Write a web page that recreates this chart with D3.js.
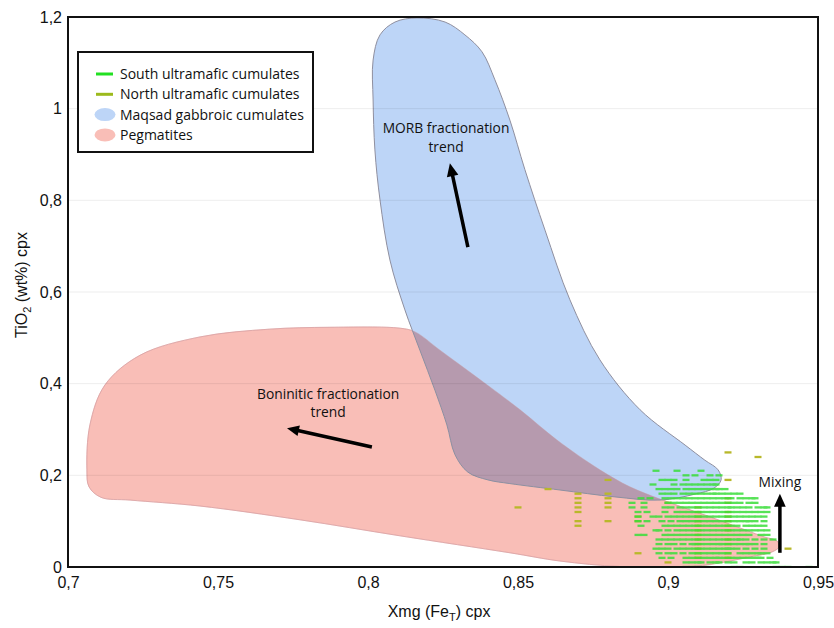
<!DOCTYPE html>
<html><head><meta charset="utf-8">
<script src="https://cdn.jsdelivr.net/npm/d3@7"></script>
<style>body{margin:0;background:#fff} svg{display:block}</style>
</head><body><svg id="c" width="834" height="628"></svg>
<script>
// ---------- data ----------
const xTicks = [0.7, 0.75, 0.8, 0.85, 0.9, 0.95];
const yTicks = [0, 0.2, 0.4, 0.6, 0.8, 1, 1.2];
const gridValues = [0.2, 0.4, 0.6, 0.8, 1.0];
const legendLabels = ["South ultramafic cumulates", "North ultramafic cumulates", "Maqsad gabbroic cumulates", "Pegmatites"];

// field outlines [Xmg, TiO2]
const morbField = [
  [0.8163,1.198],[0.8257,1.189],[0.8323,1.161],[0.838,1.124],[0.8423,1.063],[0.8473,0.975],
  [0.8523,0.867],[0.859,0.735],[0.8673,0.583],[0.8773,0.452],[0.8907,0.343],[0.9057,0.266],
  [0.9123,0.233],[0.9167,0.212],[0.9177,0.190],[0.9153,0.172],[0.909,0.159],[0.8973,0.146],
  [0.8823,0.153],[0.864,0.168],[0.8473,0.182],[0.840,0.190],[0.8333,0.207],[0.829,0.245],
  [0.8263,0.310],[0.8223,0.386],[0.8173,0.473],[0.8123,0.561],[0.8073,0.670],[0.804,0.801],
  [0.8023,0.910],[0.8017,1.019],[0.8017,1.106],[0.804,1.161],[0.809,1.189]
];
const pegmatiteField = [
  [0.707,0.175],[0.7063,0.212],[0.7073,0.310],[0.7123,0.397],[0.724,0.462],[0.744,0.502],
  [0.7673,0.519],[0.7873,0.523],[0.8107,0.521],[0.8157,0.513],[0.824,0.473],
  [0.834,0.425],[0.8507,0.343],[0.863,0.277],[0.8773,0.212],[0.8873,0.175],[0.8983,0.146],
  [0.915,0.107],[0.9257,0.081],[0.9323,0.065],[0.9363,0.057],[0.937,0.044],[0.9347,0.033],
  [0.9273,0.022],[0.9173,0.009],[0.9073,0.001],[0.884,0.001],[0.864,0.013],[0.8473,0.031],
  [0.8107,0.068],[0.7773,0.103],[0.744,0.133],[0.7207,0.146],[0.711,0.152]
];

// South ultramafic cumulates: rows of TiO2 with Xmg values
const southTiO2 = [0.21,0.20,0.19,0.18,0.17,0.16,0.15,0.14,0.13,0.12,0.11,0.10,0.09,0.08,0.07,0.06,0.05,0.04,0.03,0.02,0.01,0.00];
const southXmg = [
  [0.896,0.903,0.911],
  [0.906,0.909,0.914,0.917],
  [0.898,0.900,0.902,0.906,0.912,0.914,0.916],
  [0.895,0.902,0.905,0.907,0.909,0.911,0.913,0.915,0.916],
  [0.897,0.899,0.901,0.903,0.906,0.908,0.910,0.912,0.914,0.916,0.917,0.919],
  [0.898,0.900,0.902,0.905,0.907,0.909,0.911,0.913,0.915,0.916,0.918,0.920,0.922,0.924],
  [0.891,0.894,0.899,0.901,0.903,0.905,0.907,0.909,0.911,0.913,0.915,0.917,0.919,0.921,0.924,0.926,0.928,0.929],
  [0.888,0.892,0.900,0.902,0.904,0.906,0.908,0.910,0.912,0.914,0.916,0.918,0.920,0.922,0.924,0.927,0.929],
  [0.888,0.892,0.899,0.901,0.904,0.906,0.908,0.910,0.912,0.914,0.916,0.918,0.920,0.921,0.923,0.925,0.927,0.930,0.932,0.933],
  [0.890,0.893,0.899,0.903,0.905,0.907,0.909,0.911,0.913,0.915,0.917,0.919,0.921,0.923,0.925,0.927,0.929,0.931,0.933],
  [0.890,0.895,0.897,0.900,0.902,0.904,0.906,0.908,0.910,0.912,0.914,0.916,0.918,0.920,0.922,0.924,0.926,0.928,0.930,0.932],
  [0.890,0.893,0.898,0.901,0.904,0.906,0.908,0.910,0.912,0.914,0.916,0.918,0.920,0.922,0.924,0.926,0.927,0.929,0.932],
  [0.891,0.899,0.901,0.903,0.905,0.907,0.909,0.911,0.913,0.915,0.917,0.919,0.921,0.923,0.926,0.928,0.930,0.932],
  [0.896,0.897,0.900,0.903,0.905,0.907,0.909,0.911,0.913,0.915,0.917,0.919,0.921,0.923,0.925,0.927,0.929,0.931,0.933],
  [0.890,0.892,0.899,0.901,0.903,0.905,0.907,0.909,0.911,0.913,0.915,0.917,0.919,0.921,0.923,0.925,0.927,0.931,0.933],
  [0.897,0.899,0.901,0.903,0.905,0.907,0.909,0.911,0.913,0.915,0.917,0.919,0.921,0.923,0.924,0.926,0.929,0.932,0.935],
  [0.897,0.900,0.902,0.905,0.908,0.909,0.911,0.913,0.915,0.917,0.918,0.920,0.922,0.924,0.926,0.927,0.929,0.932],
  [0.896,0.898,0.900,0.903,0.905,0.907,0.909,0.911,0.913,0.915,0.917,0.919,0.920,0.921,0.923,0.926,0.929,0.932],
  [0.897,0.900,0.902,0.905,0.908,0.910,0.912,0.914,0.916,0.918,0.920,0.924,0.926,0.928,0.930,0.931,0.933],
  [0.898,0.901,0.906,0.908,0.910,0.912,0.914,0.916,0.917,0.919,0.921,0.923,0.925,0.927,0.929,0.930,0.931,0.934],
  [0.906,0.908,0.910,0.911,0.914,0.916,0.917,0.920,0.922,0.926,0.928,0.931,0.933,0.935,0.936],
  [0.906,0.908,0.910,0.913,0.922,0.924,0.936,0.938,0.940,0.947]
];

// North ultramafic cumulates [Xmg, TiO2]
const northPoints = [
  [0.85,0.13],[0.86,0.17],
  [0.87,0.16],[0.87,0.15],[0.87,0.14],[0.87,0.13],[0.87,0.12],[0.87,0.10],[0.87,0.09],
  [0.88,0.19],[0.88,0.16],[0.88,0.15],[0.88,0.14],[0.88,0.13],[0.88,0.10],
  [0.89,0.11],[0.89,0.10],[0.89,0.03],[0.90,0.14],[0.90,0.01],
  [0.91,0.13],[0.91,0.12],[0.91,0.11],[0.91,0.10],[0.91,0.09],[0.91,0.08],[0.91,0.07],[0.91,0.06],[0.91,0.05],[0.91,0.04],[0.91,0.03],[0.91,0.02],
  [0.92,0.25],[0.92,0.19],[0.92,0.15],[0.92,0.14],[0.92,0.12],[0.92,0.11],[0.92,0.10],[0.92,0.09],[0.92,0.08],[0.92,0.06],[0.92,0.05],[0.92,0.03],[0.92,0.02],
  [0.93,0.24],[0.94,0.04]
];

// ---------- chart ----------
const W = 834, H = 628;
const margin = {left: 68, right: 16, top: 17, bottom: 61};
const x = d3.scaleLinear().domain([0.7, 0.95]).range([margin.left, W - margin.right]);
const y = d3.scaleLinear().domain([0, 1.2]).range([H - margin.bottom, margin.top]);
const fmt = d => String(d).replace('.', ',');

const svg = d3.select('#c');
const defs = svg.append('defs');
defs.append('clipPath').attr('id', 'plotClip').append('rect')
  .attr('x', x(0.7)).attr('y', y(1.2)).attr('width', x(0.95) - x(0.7)).attr('height', y(0) - y(1.2));

const area = d3.line().x(d => x(d[0])).y(d => y(d[1])).curve(d3.curveCatmullRomClosed.alpha(0.5));
defs.append('clipPath').attr('id', 'morbClip').append('path').attr('d', area(morbField));

const plot = svg.append('g').attr('clip-path', 'url(#plotClip)');

plot.append('path').attr('d', area(pegmatiteField)).attr('fill', '#f9beb7').attr('stroke', '#eeaaa6').attr('stroke-width', 0.8);
plot.append('path').attr('d', area(morbField)).attr('fill', '#bdd5f7');
plot.append('g').attr('clip-path', 'url(#morbClip)').append('path')
  .attr('d', area(pegmatiteField)).attr('fill', '#b69aae');
plot.append('path').attr('d', area(pegmatiteField)).attr('fill', 'none').attr('stroke', '#c69aa0').attr('stroke-width', 0.7).attr('stroke-opacity', 0.6);
plot.append('path').attr('d', area(morbField)).attr('fill', 'none').attr('stroke', '#8f8f9f').attr('stroke-width', 1);

// grid
plot.selectAll('line.grid').data(gridValues).join('line').attr('class', 'grid')
  .attr('x1', x(0.7)).attr('x2', x(0.95)).attr('y1', d => y(d)).attr('y2', d => y(d))
  .attr('stroke', '#000').attr('stroke-opacity', 0.07).attr('stroke-width', 1);

// points
const dashW = 7, dashH = 2.3;
plot.append('g').selectAll('rect').data(northPoints).join('rect')
  .attr('x', d => x(d[0]) - dashW / 2).attr('y', d => y(d[1]) - dashH / 2)
  .attr('width', dashW).attr('height', dashH).attr('fill', '#b8b82a');
const southFlat = southTiO2.flatMap((t, i) => southXmg[i].map(v => [v, t]));
plot.append('g').attr('opacity', 0.85).selectAll('rect').data(southFlat).join('rect')
  .attr('x', d => x(d[0]) - dashW / 2).attr('y', d => y(d[1]) - dashH / 2)
  .attr('width', dashW).attr('height', dashH).attr('fill', '#3ade3a');

// annotations
const annFont = "'Open Sans', 'Noto Sans', sans-serif";
function arrow(from, to, head) {
  const x1 = x(from[0]), y1 = y(from[1]), x2 = x(to[0]), y2 = y(to[1]);
  const ang = Math.atan2(y2 - y1, x2 - x1);
  const L = head, hw = head * 0.45;
  const bx = x2 - L * Math.cos(ang), by = y2 - L * Math.sin(ang);
  svg.append('line').attr('x1', x1).attr('y1', y1).attr('x2', bx + Math.cos(ang)).attr('y2', by + Math.sin(ang))
    .attr('stroke', '#000').attr('stroke-width', 3.5);
  const p = [[x2, y2], [bx + hw * Math.sin(ang), by - hw * Math.cos(ang)], [bx - hw * Math.sin(ang), by + hw * Math.cos(ang)]];
  svg.append('path').attr('d', 'M' + p.map(q => q.join(',')).join('L') + 'Z').attr('fill', '#000');
}
function label(lines, pos, lh) {
  const t = svg.append('text').attr('x', x(pos[0])).attr('y', y(pos[1]))
    .attr('text-anchor', 'middle').attr('font-family', annFont).attr('font-size', 13.8).attr('fill', '#111');
  lines.forEach((s, i) => t.append('tspan').attr('x', x(pos[0])).attr('dy', i === 0 ? 0 : lh).text(s));
}
label(["MORB fractionation", "trend"], [0.826, 0.948], 19);
arrow([0.8333, 0.698], [0.8273, 0.881], 13);
label(["Boninitic fractionation", "trend"], [0.7867, 0.366], 18);
arrow([0.8013, 0.262], [0.773, 0.303], 12);
label(["Mixing"], [0.9373, 0.174], 18);
arrow([0.9373, 0.031], [0.9373, 0.16], 13);

// axes
const tickFont = "'Liberation Sans', Arial, sans-serif";
const xAxis = svg.append('g').attr('transform', `translate(0,${y(0)})`)
  .call(d3.axisBottom(x).tickValues(xTicks).tickFormat(fmt).tickSize(0).tickPadding(10));
const yAxis = svg.append('g').attr('transform', `translate(${x(0.7)},0)`)
  .call(d3.axisLeft(y).tickValues(yTicks).tickFormat(fmt).tickSize(0).tickPadding(6));
[xAxis, yAxis].forEach(a => {
  a.select('.domain').remove();
  a.selectAll('text').attr('font-family', tickFont).attr('font-size', 16).attr('fill', '#111');
});

// frame
svg.append('rect').attr('x', x(0.7)).attr('y', y(1.2)).attr('width', x(0.95) - x(0.7)).attr('height', y(0) - y(1.2))
  .attr('fill', 'none').attr('stroke', '#111').attr('stroke-width', 2);

// axis titles
const xt = svg.append('text').attr('x', 439).attr('y', 617).attr('text-anchor', 'middle')
  .attr('font-family', tickFont).attr('font-size', 16).attr('fill', '#111');
xt.append('tspan').text('Xmg (Fe');
xt.append('tspan').attr('font-size', 11).attr('dy', 4).text('T');
xt.append('tspan').attr('dy', -4).text(') cpx');
const yt = svg.append('text').attr('transform', `translate(27,${285}) rotate(-90)`).attr('text-anchor', 'middle')
  .attr('font-family', tickFont).attr('font-size', 16).attr('fill', '#111');
yt.append('tspan').text('TiO');
yt.append('tspan').attr('font-size', 11).attr('dy', 4).text('2');
yt.append('tspan').attr('dy', -4).text(' (wt%) cpx');

// legend
const lg = svg.append('g');
lg.append('rect').attr('x', 78).attr('y', 52).attr('width', 235).attr('height', 100)
  .attr('fill', '#fff').attr('stroke', '#111').attr('stroke-width', 2);
const rowY = i => 74 + i * 20.3;
lg.append('line').attr('x1', 96).attr('x2', 113).attr('y1', rowY(0)).attr('y2', rowY(0)).attr('stroke', '#22e022').attr('stroke-width', 3);
lg.append('line').attr('x1', 96).attr('x2', 113).attr('y1', rowY(1)).attr('y2', rowY(1)).attr('stroke', '#9cba1c').attr('stroke-width', 3);
lg.append('ellipse').attr('cx', 105).attr('cy', rowY(2)).attr('rx', 10.5).attr('ry', 6.5).attr('fill', '#bdd5f7');
lg.append('ellipse').attr('cx', 105).attr('cy', rowY(3)).attr('rx', 10.5).attr('ry', 6.5).attr('fill', '#f9beb7');
lg.selectAll('text').data(legendLabels).join('text')
  .attr('x', 120).attr('y', (d, i) => rowY(i)).attr('dy', '0.35em')
  .attr('font-family', annFont).attr('font-size', 14).attr('fill', '#111').text(d => d);
</script></body></html>
